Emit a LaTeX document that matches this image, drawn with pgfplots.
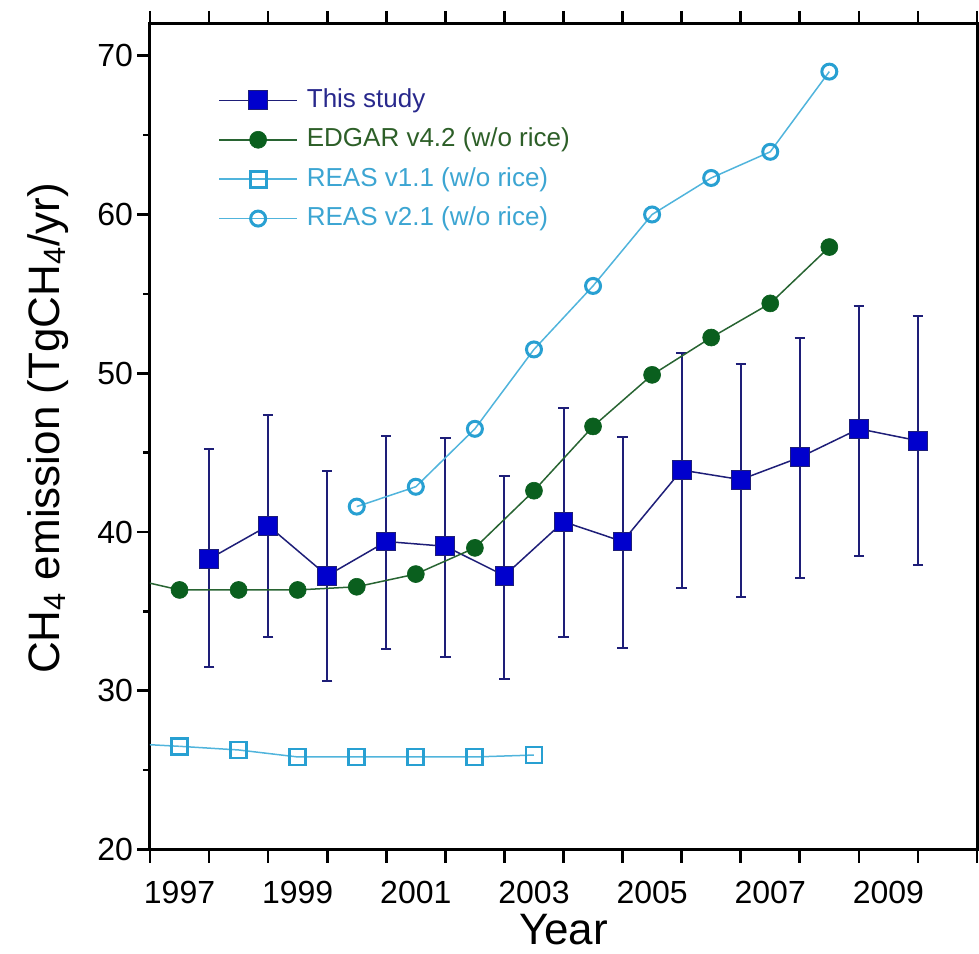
\documentclass[border=0pt]{standalone}
\usepackage{pgfplots}
\pgfplotsset{compat=1.18}
\usepackage{pgfplotstable}
\usepackage{fontspec}
\setmainfont{Liberation Sans}
\definecolor{navyc}{RGB}{30,30,120}
\definecolor{navytext}{RGB}{40,40,140}
\definecolor{bluef}{RGB}{0,0,205}
\definecolor{edgarline}{RGB}{40,100,50}
\definecolor{edgarfill}{RGB}{10,95,30}
\definecolor{edgartext}{RGB}{45,95,40}
\definecolor{reas}{RGB}{40,160,210}
\definecolor{reasline}{RGB}{80,180,220}
\definecolor{reastext}{RGB}{60,165,210}

\pgfplotstableread{
x y ep em
1997.5 38.3 6.9 6.8
1998.5 40.4 7.0 7.0
1999.5 37.25 6.6 6.65
2000.5 39.4 6.65 6.8
2001.5 39.1 6.8 7.0
2002.5 37.25 6.3 6.5
2003.5 40.65 7.15 7.25
2004.5 39.4 6.6 6.7
2005.5 43.9 7.4 7.4
2006.5 43.3 7.3 7.4
2007.5 44.7 7.5 7.6
2008.5 46.5 7.75 8.0
2009.5 45.75 7.85 7.85
}\thisstudy

\pgfplotstableread{
x y
1997 36.35
1998 36.35
1999 36.35
2000 36.55
2001 37.35
2002 39.0
2003 42.6
2004 46.65
2005 49.9
2006 52.25
2007 54.4
2008 57.95
}\edgar

\pgfplotstableread{
x y
1997 26.5
1998 26.27
1999 25.83
2000 25.83
2001 25.83
2002 25.83
2003 25.95
}\reasone

\pgfplotstableread{
x y
2000 41.6
2001 42.85
2002 46.5
2003 51.5
2004 55.5
2005 60.0
2006 62.3
2007 63.95
2008 69.0
}\reastwo

\begin{document}
\begin{tikzpicture}
\begin{axis}[
  scale only axis, width=413.5pt, height=412.75pt,
  xmin=1996.5, xmax=2010.5, ymin=20, ymax=72,
  axis line style={line width=1.5pt},
  /pgf/number format/assume math mode=true,
  xtick={1996.5,1997.5,...,2010.5}, xticklabels={},
  extra x ticks={1997,1999,2001,2003,2005,2007,2009},
  extra x tick labels={1997,1999,2001,2003,2005,2007,2009},
  extra x tick style={tick style={draw=none}},
  ytick={20,30,40,50,60,70},
  minor y tick num=1,
  tick align=outside,
  xtick pos=both, ytick pos=left, xticklabel pos=lower,
  major tick length=6.5pt, minor tick length=3.5pt,
  every tick/.style={black, line width=1.3pt},
  tick label style={font=\fontsize{16}{19}\selectfont},
  xticklabel style={yshift=-6pt},
  yticklabel style={xshift=1.5pt},
  xlabel={Year},
  ylabel={CH\textsubscript{4} emission (TgCH\textsubscript{4}/yr)},
  every axis x label/.style={at={(axis description cs:0.5,0)}, anchor=base, yshift=-47.5pt, font=\fontsize{22}{26}\selectfont},
  every axis y label/.style={at={(axis description cs:-0.110,0.51)}, rotate=90, anchor=base, font=\fontsize{22}{26}\selectfont},
  legend style={at={(axis description cs:0.0822,0.9225)}, anchor=north west, draw=none, fill=none, inner sep=0pt,
    font=\fontsize{13}{15}\selectfont, row sep=7.7pt,
    nodes={inner sep=0pt, text height=9.5pt, text depth=2.5pt},
    /tikz/every odd column/.append style={column sep=4.5pt}},
  legend cell align=left,
  legend image code/.code={\draw[mark repeat=2,mark phase=2,#1] plot coordinates {(0pt,0pt) (19.5pt,0pt) (39pt,0pt)};},
]
\addplot[navyc, line width=0.75pt, mark=square*, mark size=4.7pt,
  mark options={fill=bluef, draw=navyc, line width=0.5pt, solid},
  error bars/.cd, y dir=both, y explicit,
  error bar style={line width=1pt, navyc},
  error mark options={rotate=90, mark size=2.6pt, line width=1pt, navyc}]
  table[x=x, y=y, y error plus=ep, y error minus=em] {\thisstudy};
\addlegendentry{\textcolor{navytext}{This study}}

\addplot[edgarline, line width=0.75pt, mark=*, mark size=4.25pt,
  mark options={fill=edgarfill, draw=edgarfill, line width=0.3pt, solid}]
  table[x=x, y=y] {\edgar};
\addlegendentry{\textcolor{edgartext}{EDGAR v4.2 (w/o rice)}}

\addplot[reasline, line width=0.75pt, mark=square, mark size=4pt,
  mark options={draw=reas, fill=white, line width=1.4pt, solid}]
  table[x=x, y=y] {\reasone};
\addlegendentry{\textcolor{reastext}{REAS v1.1 (w/o rice)}}

\addplot[reasline, line width=0.75pt, mark=o, mark size=3.75pt,
  mark options={draw=reas, fill=white, line width=1.5pt, solid}]
  table[x=x, y=y] {\reastwo};
\addlegendentry{\textcolor{reastext}{REAS v2.1 (w/o rice)}}

% segments running in from the left edge (earlier years, clipped)
\addplot[edgarline, line width=0.75pt, no marks, forget plot] coordinates {(1996,37.2) (1997,36.35)};
\addplot[reasline, line width=0.75pt, no marks, forget plot] coordinates {(1996,26.7) (1997,26.5)};
\end{axis}
\pgfresetboundingbox
\path ([xshift=-75pt,yshift=-51.75pt]current axis.south west) rectangle ([xshift=1pt,yshift=12pt]current axis.north east);
\end{tikzpicture}
\end{document}
